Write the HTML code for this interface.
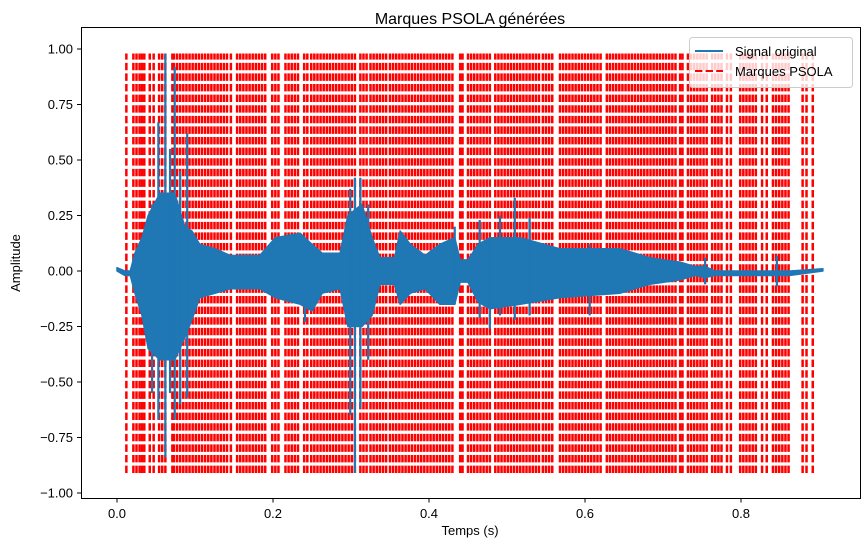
<!DOCTYPE html>
<html><head><meta charset="utf-8"><style>
body{margin:0;background:#fff;}
svg{display:block;font-family:"Liberation Sans","DejaVu Sans",sans-serif;}
</style></head><body>
<svg id="chart" width="866" height="548" viewBox="0 0 866 548">
<text x="470" y="24" font-size="16" text-anchor="middle">Marques PSOLA générées</text>
<g id="marks"></g>
<g id="signal"></g>
<rect x="81.5" y="27.5" width="779" height="471" fill="none" stroke="#000" stroke-width="1"/>
<g id="xticks"></g>
<g id="yticks"></g>
<text x="470" y="535" font-size="13" text-anchor="middle">Temps (s)</text>
<text x="20" y="263" font-size="13" text-anchor="middle" transform="rotate(-90 20 263)">Amplitude</text>
<g>
<rect x="689.5" y="37.5" width="163" height="50" rx="3" fill="#fff" fill-opacity="0.8" stroke="#ccc"/>
<line x1="695" y1="51" x2="723" y2="51" stroke="#1f77b4" stroke-width="2"/>
<text x="735" y="56" font-size="13">Signal original</text>
<line x1="695" y1="71" x2="723" y2="71" stroke="#f00" stroke-width="2" stroke-dasharray="7.4 3.2"/>
<text x="735" y="76" font-size="13">Marques PSOLA</text>
</g>
</svg>
<script>
const xTicks=[0.0,0.2,0.4,0.6,0.8];
const xTickLabels=["0.0","0.2","0.4","0.6","0.8"];
const yTicks=[-1,-0.75,-0.5,-0.25,0,0.25,0.5,0.75,1];
const yTickLabels=["−1.00","−0.75","−0.50","−0.25","0.00","0.25","0.50","0.75","1.00"];
const markTimes=[0.012,0.021,0.025,0.029,0.032,0.035,0.042,0.047,0.054,0.058,0.062,0.071,0.073,0.077,0.081,
0.085,0.089,0.093,0.097,0.101,0.105,0.109,0.113,0.117,0.121,0.125,0.129,0.133,0.137,0.141,0.146,
0.154,0.158,0.162,0.166,0.170,0.174,0.178,0.182,0.186,0.190,0.199,0.203,0.207,0.216,0.220,0.224,0.228,0.232,0.240,0.244,
0.249,0.253,0.257,0.261,0.265,0.269,0.273,0.277,0.281,0.285,0.289,0.293,0.297,0.301,0.305,0.312,0.316,0.320,
0.325,0.329,0.333,0.337,0.341,0.345,0.350,0.354,0.358,0.362,0.366,0.370,0.374,0.378,0.382,0.386,0.390,0.394,0.398,0.402,0.406,0.410,0.414,0.418,0.422,0.426,0.430,
0.440,0.443,0.450,0.454,0.458,0.462,0.466,0.470,0.474,0.478,0.485,0.489,0.493,0.497,0.501,0.505,0.509,0.513,0.517,0.521,0.525,0.529,0.533,0.537,0.541,
0.546,0.550,0.554,0.558,0.568,0.572,0.576,0.580,0.584,0.588,0.592,0.596,0.600,0.604,0.608,0.612,0.616,0.620,
0.628,0.632,0.636,0.640,0.644,0.648,0.652,0.656,0.660,0.664,0.668,0.672,0.676,0.680,0.684,0.688,0.692,0.696,0.700,0.704,0.708,0.712,0.716,
0.722,0.725,0.732,0.736,0.740,0.744,0.748,0.752,0.756,0.763,0.767,0.771,0.775,0.782,0.787,0.799,0.803,0.807,0.811,0.815,0.819,0.827,0.833,0.841,0.845,0.849,0.853,0.857,0.861,0.879,0.884,0.892];
const markTop=0.98, markBottom=-0.91;
const envT=[0,0.010,0.017,0.023,0.032,0.040,0.055,0.074,0.087,0.096,0.106,0.126,0.145,0.183,0.203,0.235,0.250,0.263,0.286,0.296,0.314,0.327,0.337,0.356,0.363,0.376,0.395,0.414,0.433,0.440,0.450,0.463,0.478,0.517,0.568,0.645,0.683,0.722,0.741,0.754,0.767,0.863,0.905];
const envHi=[0.015,0.0,0.0,0.08,0.15,0.25,0.35,0.35,0.2,0.18,0.12,0.1,0.07,0.07,0.15,0.17,0.12,0.08,0.08,0.25,0.3,0.15,0.06,0.06,0.18,0.12,0.07,0.12,0.15,0.05,0.05,0.12,0.15,0.15,0.1,0.1,0.06,0.04,0.02,0.02,0.0,0.0,0.01];
const envLo=[0.0,-0.02,-0.02,-0.1,-0.2,-0.35,-0.4,-0.4,-0.3,-0.22,-0.12,-0.1,-0.08,-0.08,-0.12,-0.15,-0.18,-0.1,-0.08,-0.25,-0.25,-0.2,-0.06,-0.06,-0.15,-0.1,-0.08,-0.15,-0.15,-0.05,-0.05,-0.14,-0.17,-0.15,-0.12,-0.1,-0.06,-0.04,-0.02,-0.03,-0.02,-0.02,0.0];
const spikeT=[0.045,0.053,0.062,0.068,0.074,0.081,0.090,0.241,0.299,0.305,0.312,0.322,0.433,0.465,0.478,0.491,0.510,0.529,0.606,0.754,0.846];
const spikeHi=[0.3,0.67,0.98,0.55,0.92,0.45,0.62,0.15,0.37,0.42,0.42,0.3,0.2,0.23,0.15,0.25,0.33,0.24,0.12,0.06,0.07];
const spikeLo=[-0.55,-0.67,-0.84,-0.55,-0.67,-0.6,-0.57,-0.23,-0.65,-0.91,-0.62,-0.4,-0.15,-0.21,-0.26,-0.2,-0.22,-0.2,-0.2,-0.06,-0.07];

const NS="http://www.w3.org/2000/svg";
const X=t=>117+t*780;
const Y=v=>271-v*222;
function mk(tag,attrs,parent){const e=document.createElementNS(NS,tag);for(const k in attrs)e.setAttribute(k,attrs[k]);parent.appendChild(e);return e;}

const marksG=document.getElementById('marks');
markTimes.forEach(t=>{
  const l=mk('line',{x1:X(t),x2:X(t),y1:Y(markBottom),y2:Y(markTop),stroke:'#f00','stroke-width':2.5,'stroke-dasharray':'7.4 3.2'},marksG);
  
  
});

const sigG=document.getElementById('signal');
let d='M'+X(envT[0])+','+Y(envHi[0]);
for(let i=1;i<envT.length;i++)d+=' L'+X(envT[i])+','+Y(envHi[i]);
for(let i=envT.length-1;i>=0;i--)d+=' L'+X(envT[i])+','+Y(envLo[i]);
d+=' Z';
const band=mk('path',{d:d,fill:'#1f77b4',stroke:'#1f77b4','stroke-width':1.5,'stroke-linejoin':'round'},sigG);


spikeT.forEach((t,i)=>{
  const s=mk('line',{x1:X(t),x2:X(t),y1:Y(spikeHi[i]),y2:Y(spikeLo[i]),stroke:'#1f77b4','stroke-width':2.2},sigG);
  
  
});

const xg=document.getElementById('xticks');
xTicks.forEach((v,i)=>{
  const tk=mk('line',{x1:X(v),x2:X(v),y1:498.5,y2:502.5,stroke:'#000'},xg);
  
  
  const tx=mk('text',{x:X(v),y:518,'font-size':13,'text-anchor':'middle'},xg);
  tx.textContent=xTickLabels[i];
  
  
});
const yg=document.getElementById('yticks');
yTicks.forEach((v,i)=>{
  const tk=mk('line',{x1:77,x2:81.5,y1:Y(v),y2:Y(v),stroke:'#000'},yg);
  
  
  const tx=mk('text',{x:73,y:Y(v)+4.5,'font-size':13,'text-anchor':'end'},yg);
  tx.textContent=yTickLabels[i];
  
  
});
</script>
</body></html>
